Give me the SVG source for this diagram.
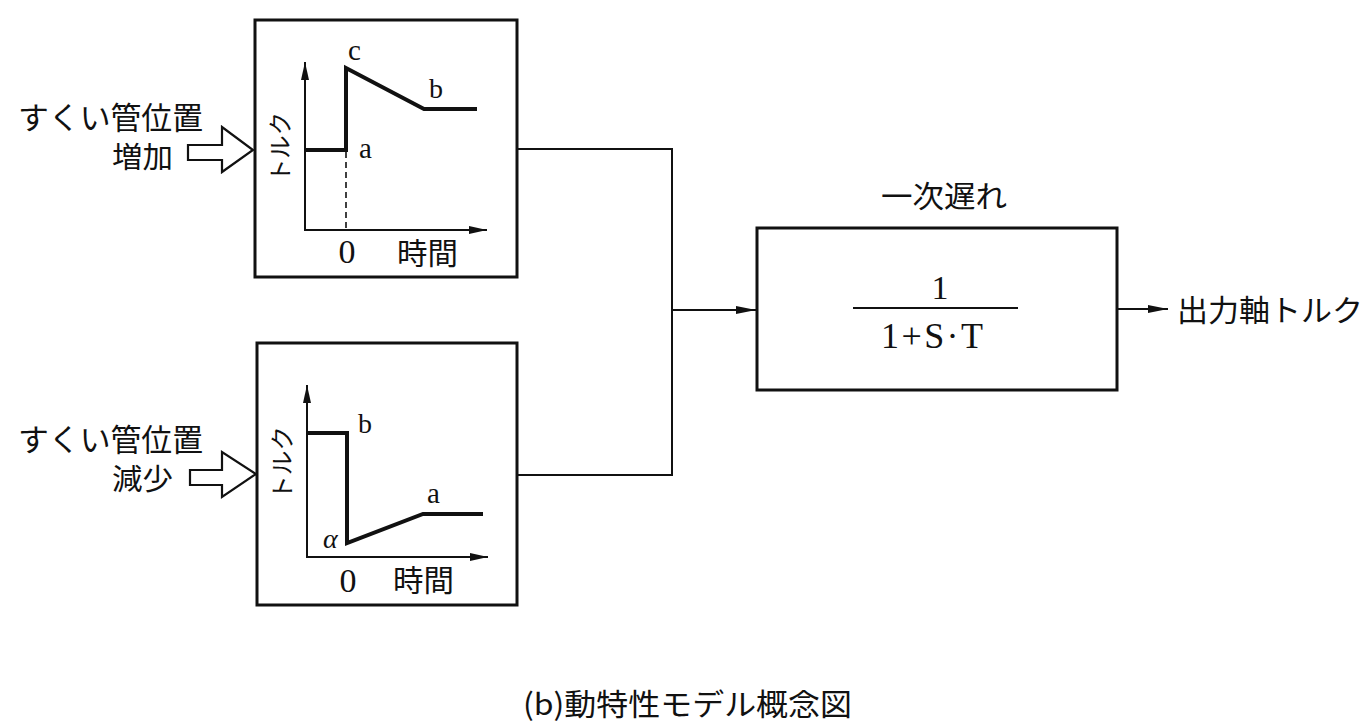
<svg xmlns="http://www.w3.org/2000/svg" width="1367" height="725" viewBox="0 0 1367 725">
<style>
.box{fill:none;stroke:#111;stroke-width:3}
.ax{fill:none;stroke:#111;stroke-width:2}
.crv{fill:none;stroke:#111;stroke-width:4;stroke-linejoin:miter}
.con{fill:none;stroke:#111;stroke-width:2}
.dash{fill:none;stroke:#111;stroke-width:1.6;stroke-dasharray:6 4}
.hol{fill:#fff;stroke:#111;stroke-width:2.2;stroke-linejoin:miter}
.jp{font-family:"Noto Sans CJK JP","Noto Sans",sans-serif;fill:#111}
.lt{font-family:"Liberation Serif","Times New Roman",serif;fill:#111}
</style>
<defs>
<marker id="ah" viewBox="0 0 20 8" refX="20" refY="4" markerWidth="20" markerHeight="8" orient="auto" markerUnits="userSpaceOnUse"><path d="M0,0 L20,4 L0,8 z" fill="#111"/></marker>
<marker id="ax" viewBox="0 0 18 8" refX="18" refY="4" markerWidth="18" markerHeight="8" orient="auto" markerUnits="userSpaceOnUse"><path d="M0,0 L18,4 L0,8 z" fill="#111"/></marker>
</defs>
<rect width="1367" height="725" fill="#fff"/>

<g id="input-increase">
<text class="jp" x="18" y="129" font-size="31" textLength="185" lengthAdjust="spacingAndGlyphs">すくい管位置</text>
<text class="jp" x="112" y="168" font-size="29" textLength="61" lengthAdjust="spacingAndGlyphs">増加</text>
<polygon class="hol" points="188,145 222,145 222,127 253,150 222,172 222,160 188,160"/>
</g>

<g id="box-increase">
<rect class="box" x="255" y="20" width="262" height="257"/>
<line class="ax" x1="305" y1="230" x2="305" y2="62" marker-end="url(#ax)"/>
<line class="ax" x1="304" y1="230" x2="487" y2="230" marker-end="url(#ax)"/>
<line class="dash" x1="346" y1="152" x2="346" y2="230"/>
<polyline class="crv" points="305,150 346,150 346,68 424,109 477,109"/>
<text class="jp" x="278" y="147" font-size="24" text-anchor="middle" dominant-baseline="central" transform="rotate(-90 278 147)" textLength="70" lengthAdjust="spacingAndGlyphs">トルク</text>
<text class="lt" x="348" y="60" font-size="29">c</text>
<text class="lt" x="429" y="98" font-size="28">b</text>
<text class="lt" x="359" y="158" font-size="29">a</text>
<text class="lt" x="347" y="263" font-size="34" text-anchor="middle">0</text>
<text class="jp" x="397" y="264" font-size="30" textLength="61" lengthAdjust="spacingAndGlyphs">時間</text>
</g>

<g id="input-decrease">
<text class="jp" x="18" y="451" font-size="31" textLength="185" lengthAdjust="spacingAndGlyphs">すくい管位置</text>
<text class="jp" x="112" y="490" font-size="29" textLength="61" lengthAdjust="spacingAndGlyphs">減少</text>
<polygon class="hol" points="190,470 222,470 222,452 256,474 222,497 222,485 190,485"/>
</g>

<g id="box-decrease">
<rect class="box" x="257" y="343" width="260" height="262"/>
<line class="ax" x1="307" y1="557" x2="307" y2="385" marker-end="url(#ax)"/>
<line class="ax" x1="306" y1="557" x2="488" y2="557" marker-end="url(#ax)"/>
<polyline class="crv" points="307,433 347,433 347,543 423,514 483,514"/>
<text class="jp" x="280" y="463" font-size="24" text-anchor="middle" dominant-baseline="central" transform="rotate(-90 280 463)" textLength="74" lengthAdjust="spacingAndGlyphs">トルク</text>
<text class="lt" x="358" y="433" font-size="28">b</text>
<text class="lt" x="427" y="503" font-size="29">a</text>
<text class="lt" x="323" y="548" font-size="28" font-style="italic">α</text>
<text class="lt" x="348" y="592" font-size="34" text-anchor="middle">0</text>
<text class="jp" x="393" y="591" font-size="30" textLength="61" lengthAdjust="spacingAndGlyphs">時間</text>
</g>

<g id="lag-block">
<text class="jp" x="881" y="207" font-size="30" textLength="126" lengthAdjust="spacingAndGlyphs">一次遅れ</text>
<rect class="box" x="757" y="228" width="360" height="162"/>
<text class="lt" x="940" y="299" font-size="34" text-anchor="middle">1</text>
<line class="con" x1="853" y1="308" x2="1018" y2="308"/>
<text class="lt" x="881" y="348" font-size="36" textLength="102" lengthAdjust="spacing">1+S·T</text>
</g>

<g id="output-label">
<text class="jp" x="1177" y="321" font-size="30" textLength="186" lengthAdjust="spacingAndGlyphs">出力軸トルク</text>
</g>

<g id="connectors">
<polyline class="con" points="517,149 672,149 672,475 517,475"/>
<line class="con" x1="672" y1="310" x2="756" y2="310" marker-end="url(#ah)"/>
<line class="con" x1="1118" y1="309" x2="1168" y2="309" marker-end="url(#ah)"/>
</g>

<g id="caption">
<text class="jp" x="523" y="715" font-size="30" textLength="329" lengthAdjust="spacingAndGlyphs">(b)動特性モデル概念図</text>
</g>
</svg>
